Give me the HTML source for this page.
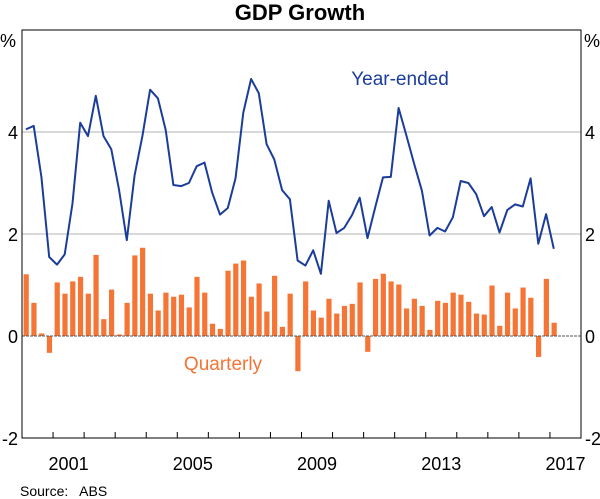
<!DOCTYPE html>
<html><head><meta charset="utf-8"><style>
body{margin:0;background:#fff;}
svg{display:block;font-family:"Liberation Sans",Arial,sans-serif;}
</style></head><body>
<svg id="chart" width="600" height="499" viewBox="0 0 600 499"></svg>
<script>
const yTicks=[-2,0,2,4];
const yTickLabels=["-2","0","2","4"];
const yearLabels=["2001","2005","2009","2013","2017"];
const yearLabelValues=[2001,2005,2009,2013,2017];
const quarterly=[1.21,0.65,0.05,-0.33,1.05,0.83,1.07,1.16,0.83,1.59,0.33,0.91,0.03,0.65,1.58,1.73,0.83,0.50,0.85,0.77,0.81,0.56,1.16,0.85,0.24,0.14,1.28,1.42,1.48,0.77,1.03,0.48,1.18,0.18,0.83,-0.69,1.07,0.50,0.36,0.73,0.44,0.59,0.63,1.05,-0.31,1.12,1.22,1.07,1.01,0.54,0.73,0.59,0.12,0.69,0.65,0.85,0.81,0.67,0.44,0.42,0.99,0.20,0.85,0.54,0.95,0.75,-0.41,1.12,0.26];
const yearEnded=[4.05,4.12,3.12,1.55,1.40,1.60,2.60,4.18,3.92,4.71,3.92,3.66,2.86,1.88,3.15,3.92,4.83,4.66,4.04,2.96,2.94,3.0,3.33,3.40,2.81,2.38,2.51,3.09,4.38,5.04,4.76,3.76,3.46,2.86,2.68,1.48,1.38,1.68,1.22,2.65,2.02,2.12,2.37,2.71,1.92,2.53,3.11,3.12,4.47,3.94,3.38,2.85,1.97,2.12,2.05,2.33,3.04,3.0,2.78,2.35,2.53,2.03,2.47,2.58,2.54,3.09,1.81,2.39,1.71];
const startYear=2000, endYear=2018;
const L=22,R=581,T=30,B=438,yMin=-2,yMax=6;
const NS="http://www.w3.org/2000/svg";
const svg=document.getElementById('chart');
function xYear(y){return L+(y-startYear)/(endYear-startYear)*(R-L);}
function xQ(i){return xYear(startYear+i/4);}
function yV(v){return T+(yMax-v)/(yMax-yMin)*(B-T);}
function mk(tag,attrs,parent){const e=document.createElementNS(NS,tag);for(const k in attrs)e.setAttribute(k,attrs[k]);(parent||svg).appendChild(e);return e;}
let t=mk('text',{x:300,y:20,'text-anchor':'middle','font-size':22,'font-weight':'bold',fill:'#000'});


t.textContent='GDP Growth';
yTicks.forEach((v,i)=>{
  if(v===2||v===4){const g=mk('line',{x1:L,x2:R,y1:yV(v),y2:yV(v),stroke:'#b3b3b3','stroke-width':1});
  
  }
  const a=mk('text',{x:L-4,y:yV(v)+7,'text-anchor':'end','font-size':18,fill:'#000'});
  
  
  a.textContent=yTickLabels[i];
  const b=mk('text',{x:R+4,y:yV(v)+7,'text-anchor':'start','font-size':18,fill:'#000'});
  
  
  b.textContent=yTickLabels[i];
});
let p1=mk('text',{x:0,y:47,'font-size':18,fill:'#000'});


p1.textContent='%';
let p2=mk('text',{x:584,y:47,'font-size':18,fill:'#000'});


p2.textContent='%';
const bw=5.2;
quarterly.forEach((v,i)=>{
  const x=xQ(i)+(7.76-bw)/2+0.3;
  const y0=yV(0),y1=yV(v);
  const r=mk('rect',{x:x,y:Math.min(y0,y1),width:bw,height:Math.max(0.5,Math.abs(y1-y0)),fill:'#f47535'});
  
  
});
let z=mk('line',{x1:L,x2:R,y1:yV(0),y2:yV(0),stroke:'#555','stroke-width':1,'stroke-dasharray':'3,1'});


const pts=yearEnded.map((v,i)=>(xQ(i)+3.9).toFixed(1)+','+yV(v).toFixed(1)).join(' ');
let pl=mk('polyline',{points:pts,fill:'none',stroke:'#1b3d99','stroke-width':2,'stroke-linejoin':'round'});


let f=mk('rect',{x:L,y:T,width:R-L,height:B-T,fill:'none',stroke:'#000','stroke-width':1});


for(let y=startYear+1;y<endYear;y++){
  const tk=mk('line',{x1:xYear(y),x2:xYear(y),y1:B,y2:B-6,stroke:'#000','stroke-width':1});
  
  
}
yearLabelValues.forEach((yv,i)=>{
  const lb=mk('text',{x:xYear(yv+0.5),y:470,'text-anchor':'middle','font-size':18,fill:'#000'});
  
  
  lb.textContent=yearLabels[i];
});
let l1=mk('text',{x:400,y:85,'text-anchor':'middle','font-size':19,fill:'#1b3d99'});


l1.textContent='Year-ended';
let l2=mk('text',{x:223,y:370,'text-anchor':'middle','font-size':19,fill:'#f47535'});


l2.textContent='Quarterly';
let s=mk('text',{x:20,y:496,'font-size':14,fill:'#000'});


s.textContent='Source:   ABS';
s.style.whiteSpace='pre';
</script>
</body></html>
